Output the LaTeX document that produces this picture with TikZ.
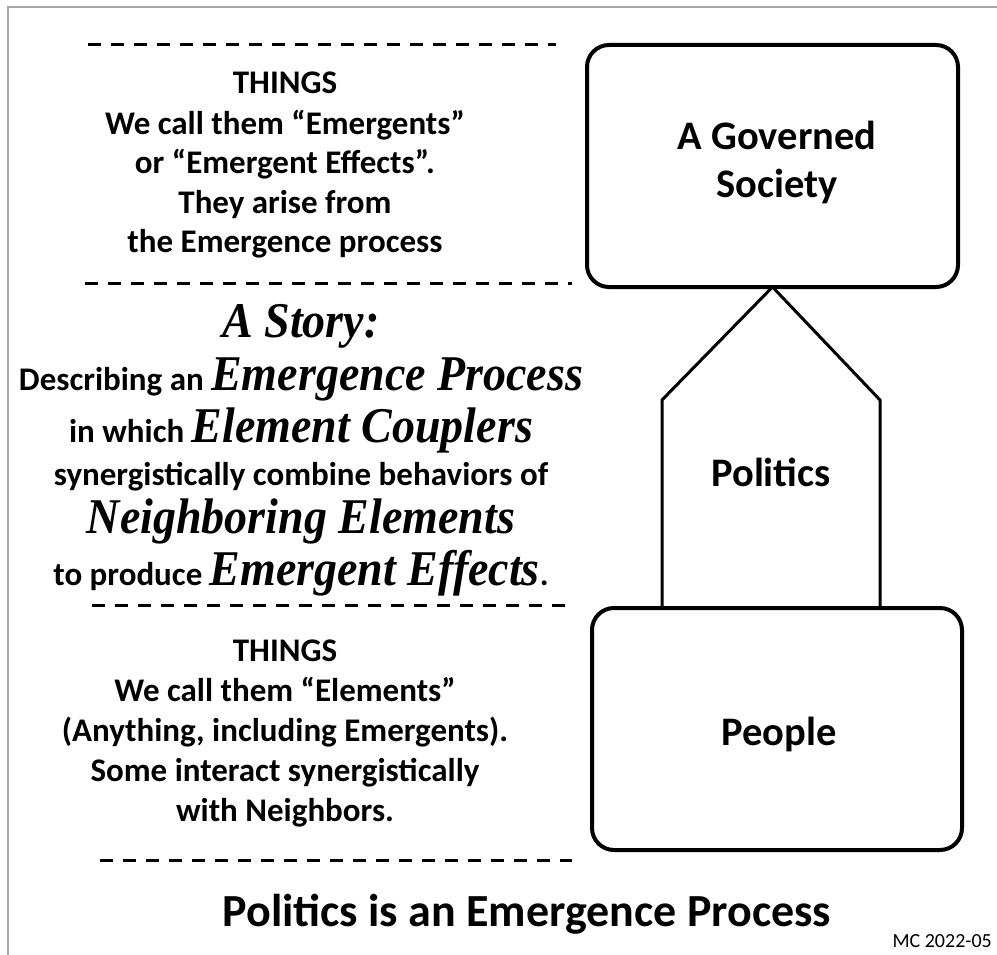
\documentclass[tikz,border=0pt]{standalone}
\usepackage{fontspec}
\setmainfont{Carlito}
\newfontfamily\storyfont[FakeStretch=0.92]{Liberation Serif}
\begin{document}
\begin{tikzpicture}[x=1pt,y=-1pt,
  sep/.style={line width=3pt, dash pattern=on 13pt off 10pt},
  house/.style={line width=3pt},
  rbox/.style={line width=4pt, rounded corners=22pt},
  blk/.style={font=\bfseries\fontsize{33}{38}\selectfont, inner sep=0pt, anchor=base},
  stsans/.style={font=\bfseries\fontsize{33}{38}\selectfont, inner sep=0pt, anchor=base},
  boxtxt/.style={font=\bfseries\fontsize{40.5}{46}\selectfont, inner sep=0pt, anchor=base}]
\newcommand{\sti}[1]{{\storyfont\bfseries\itshape\fontsize{50}{54}\selectfont #1}}
\useasboundingbox (0,0) rectangle (997,955);
% frame
\draw[gray!70, line width=2pt] (8,955) -- (8,7) -- (997,7);
% dashed separators
\coordinate (d1a) at (88,45);  \coordinate (d1b) at (556,45);
\coordinate (d2a) at (85,283); \coordinate (d2b) at (572,283);
\coordinate (d3a) at (92,605); \coordinate (d3b) at (572,605);
\coordinate (d4a) at (100,860);\coordinate (d4b) at (572,860);
\draw[sep] (d1a) -- (d1b);
\draw[sep] (d2a) -- (d2b);
\draw[sep] (d3a) -- (d3b);
\draw[sep] (d4a) -- (d4b);
% upper block
\node[blk] (t1) at (285,94) {THINGS};
\node[blk] (t2) at (285,135) {We call them “Emergents”};
\node[blk] (t3) at (285,174) {or “Emergent Effects”.};
\node[blk] (t4) at (285,214) {They arise from};
\node[blk] (t5) at (285,253) {the Emergence process};
% story
\node[stsans] (s1) at (301,337) {\sti{A Story:}};
\node[stsans] (s2) at (301,390) {Describing an \sti{Emergence Process}};
\node[stsans] (s3) at (301,442) {in which \sti{Element Couplers}};
\node[stsans] (s4) at (301,485) {synergistically combine behaviors of};
\node[stsans] (s5) at (301,533) {\sti{Neighboring Elements}};
\node[stsans] (s6) at (301,585) {to produce \sti{Emergent Effects}.};
% lower block
\node[blk] (u1) at (285,661) {THINGS};
\node[blk] (u2) at (285,701) {We call them “Elements”};
\node[blk] (u3) at (285,741) {(Anything, including Emergents).};
\node[blk] (u4) at (285,781) {Some interact synergistically};
\node[blk] (u5) at (285,821) {with Neighbors.};
% boxes
\draw[rbox] (587,45) rectangle (958,287);
\coordinate (govs) at (772.5,287);
\node[boxtxt] (g1) at (777,150) {A Governed};
\node[boxtxt] (g2) at (777,198) {Society};
\draw[rbox] (592,608) rectangle (962,850);
\node[boxtxt] (pp) at (779,745) {People};
% house arrow
\coordinate (pl) at (662,607); \coordinate (sl) at (662,400);
\coordinate (pr) at (880,607); \coordinate (sr) at (880,400);
\draw[house] (pl) -- (sl) -- (govs) -- (sr) -- (pr);
\node[boxtxt] (pol) at (771,486) {Politics};
% title
\node[font=\bfseries\fontsize{46}{52}\selectfont, inner sep=0pt, anchor=base] (title) at (527,926) {Politics is an Emergence Process};
\node[font=\fontsize{20}{24}\selectfont, inner sep=0pt, anchor=base east] (mc) at (992,947) {MC 2022-05};
\end{tikzpicture}
\end{document}
